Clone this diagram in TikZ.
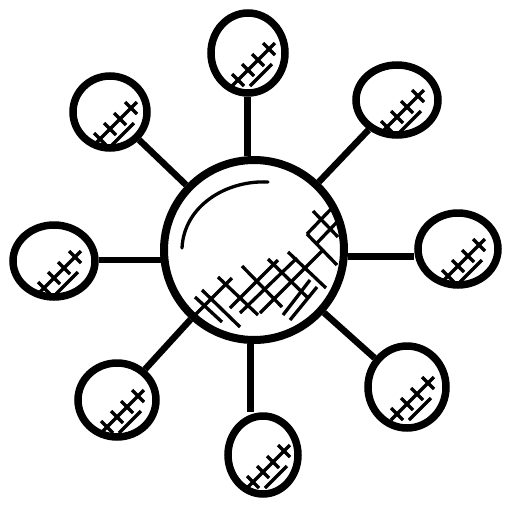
\documentclass[tikz,border=0pt]{standalone}
\usetikzlibrary{shapes.geometric}
\newcommand\myhatch[1]{%
\begin{scope}[shift={(#1)}]
\draw[hatch] (-16,33)--(27,-10) (2,33)--(24,11);
\draw[hatch] (-16,21)--(-4,33) (-6,11)--(6,23) (4,1)--(16,13) (15,-10)--(27,2);
\end{scope}}
\begin{document}
\begin{tikzpicture}[x=1pt,y=-1pt,
 ring/.style={draw, ellipse, line width=7.5pt, inner sep=0pt},
 stem/.style={line width=6.5pt},
 hatch/.style={line width=3.3pt},
 glint/.style={line width=3.3pt, line cap=round}]
\useasboundingbox (0,0) rectangle (512,512);
\node[ring, line width=8pt, minimum width=180pt, minimum height=180pt] (c) at (254,250) {};
\node[ring, minimum width=74pt, minimum height=80pt] (T) at (248,53) {};
\node[ring, minimum width=82pt, minimum height=70pt] (TR) at (397,100) {};
\node[ring, minimum width=80pt, minimum height=72pt] (R) at (458,249) {};
\node[ring, minimum width=78pt, minimum height=82pt] (BR) at (407,387) {};
\node[ring, minimum width=70pt, minimum height=78pt] (B) at (263,455) {};
\node[ring, minimum width=78pt, minimum height=74pt] (BL) at (117,400) {};
\node[ring, minimum width=82pt, minimum height=72pt] (L) at (54,261) {};
\node[ring, minimum width=74pt, minimum height=72pt] (TL) at (110,112) {};
% stems
\draw[stem] (c.94) -- (c.94 |- T.south);
\draw[stem] (c) -- (TR);
\draw[stem] (c.-4.5) -- (c.-4.5 -| R.west);
\draw[stem] (c) -- (BR);
\draw[stem] (c.-92) -- (c.-92 |- B.north);
\draw[stem] (c) -- (BL);
\draw[stem] (c.186) -- (c.186 -| L.east);
\draw[stem] (c) -- (TL);
% glint
\draw[glint] (182,248) .. controls (184,206) and (226,180) .. (268,182);
% central hatching
\draw[hatch] (313,211)--(338,237) (307,234)--(337,265) (288,252)--(326,288)
 (268,259)--(307,297) (242,266)--(282,307) (218,277)--(258,315)
 (202,290)--(240,327) (195,297)--(222,322);
\draw[hatch] (332,208)--(307,234) (337,222)--(317,243) (323,250)--(260,313)
 (297,258)--(240,313) (278,260)--(230,308) (232,278)--(195,315)
 (310,280)--(283,315) (317,287)--(290,320);
% satellite hatching
\myhatch{T}
\myhatch{TR}
\myhatch{R}
\myhatch{BR}
\myhatch{B}
\myhatch{BL}
\myhatch{L}
\myhatch{TL}
\end{tikzpicture}
\end{document}
